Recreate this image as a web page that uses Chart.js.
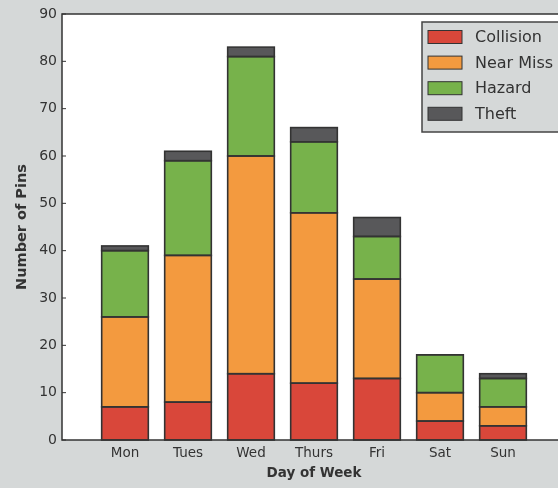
<!DOCTYPE html>
<html>
<head>
<meta charset="utf-8">
<script src="https://cdn.jsdelivr.net/npm/chart.js@4/dist/chart.umd.min.js"></script>
<style>
  html, body { margin: 0; padding: 0; overflow: hidden; background: #d5d8d8; }
  #wrap { width: 568px; height: 488px; }
</style>
</head>
<body>
<div id="wrap"><canvas id="chart" width="568" height="488"></canvas></div>
<script>
const days = ["Mon", "Tues", "Wed", "Thurs", "Fri", "Sat", "Sun"];
const collision = [7, 8, 14, 12, 13, 4, 3];
const nearMiss = [19, 31, 46, 36, 21, 6, 4];
const hazard = [14, 20, 21, 15, 9, 8, 6];
const theft = [1, 2, 2, 3, 4, 0, 1];
const yTicks = [0, 10, 20, 30, 40, 50, 60, 70, 80, 90];

const font = "'DejaVu Sans', sans-serif";
const edge = "#333333";

// one empty slot on each side so the x range runs from -1 to 7
const pad = (arr) => [null, ...arr, null];

// white plot area, bar edges, frame, inward ticks and the legend box
const framePlugin = {
  id: "frame",
  beforeDraw(chart) {
    const { ctx, chartArea: a } = chart;
    ctx.save();
    ctx.fillStyle = "#ffffff";
    ctx.fillRect(a.left, a.top, a.right - a.left, a.bottom - a.top);
    ctx.restore();
  },
  afterDatasetsDraw(chart) {
    const ctx = chart.ctx;
    ctx.save();
    ctx.strokeStyle = edge;
    ctx.lineWidth = 1.6;
    chart.data.datasets.forEach((ds, i) => {
      chart.getDatasetMeta(i).data.forEach((bar, j) => {
        if (ds.data[j] == null) return;
        const p = bar.getProps(["x", "y", "base", "width"], true);
        ctx.strokeRect(p.x - p.width / 2, p.y, p.width, p.base - p.y);
      });
    });
    ctx.restore();
  },
  afterDraw(chart) {
    const { ctx, chartArea: a, scales } = chart;
    ctx.save();
    ctx.strokeStyle = edge;
    ctx.lineWidth = 1.5;
    ctx.strokeRect(a.left, a.top, a.right - a.left, a.bottom - a.top);

    ctx.lineWidth = 1;
    yTicks.forEach((v) => {
      const y = scales.y.getPixelForValue(v);
      ctx.beginPath();
      ctx.moveTo(a.left, y);
      ctx.lineTo(a.left + 4, y);
      ctx.moveTo(a.right, y);
      ctx.lineTo(a.right - 4, y);
      ctx.stroke();
    });

    // legend
    const bx = 422, by = 22, bw = 150, bh = 110;
    ctx.fillStyle = "#d5d8d8";
    ctx.fillRect(bx, by, bw, bh);
    ctx.strokeStyle = "#444444";
    ctx.lineWidth = 1.5;
    ctx.strokeRect(bx, by, bw, bh);
    ctx.font = "16px " + font;
    ctx.textBaseline = "middle";
    chart.data.datasets.forEach((ds, i) => {
      const cy = 37 + i * 25.6;
      ctx.fillStyle = ds.backgroundColor;
      ctx.fillRect(428, cy - 6.5, 34, 13);
      ctx.strokeStyle = edge;
      ctx.lineWidth = 1;
      ctx.strokeRect(428, cy - 6.5, 34, 13);
      ctx.fillStyle = "#333333";
      ctx.fillText(ds.label, 475, cy + 1);
    });
    ctx.restore();
  },
};

const barStyle = {
  borderWidth: 0,
  barPercentage: 0.74,
  categoryPercentage: 1,
};

new Chart(document.getElementById("chart"), {
  type: "bar",
  data: {
    labels: pad(days),
    datasets: [
      { label: "Collision", data: pad(collision), backgroundColor: "#d9473a", ...barStyle },
      { label: "Near Miss", data: pad(nearMiss), backgroundColor: "#f39a3f", ...barStyle },
      { label: "Hazard", data: pad(hazard), backgroundColor: "#77b24b", ...barStyle },
      { label: "Theft", data: pad(theft), backgroundColor: "#58585a", ...barStyle },
    ],
  },
  options: {
    responsive: false,
    animation: false,
    layout: { padding: { top: 14, right: 2, left: 0, bottom: 0 } },
    plugins: {
      legend: { display: false },
      tooltip: { enabled: false },
    },
    scales: {
      x: {
        stacked: true,
        offset: false,
        grid: { display: false, drawTicks: false },
        border: { display: false },
        ticks: {
          autoSkip: false,
          maxRotation: 0,
          padding: 5,
          color: "#333333",
          font: { family: font, size: 13.5 },
        },
        title: {
          display: true,
          text: "Day of Week",
          color: "#333333",
          padding: { top: 0, bottom: 6 },
          font: { family: font, size: 13.5, weight: "bold" },
        },
        afterFit(scale) {
          scale.height = 48;
        },
      },
      y: {
        stacked: true,
        min: 0,
        max: 90,
        grid: { display: false, drawTicks: false },
        border: { display: false },
        afterBuildTicks(scale) {
          scale.ticks = yTicks.map((v) => ({ value: v }));
        },
        ticks: {
          padding: 5,
          color: "#333333",
          font: { family: font, size: 14 },
        },
        title: {
          display: true,
          text: "Number of Pins",
          color: "#333333",
          padding: { top: 14, bottom: 0 },
          font: { family: font, size: 14.5, weight: "bold" },
        },
        afterFit(scale) {
          scale.width = 62;
        },
      },
    },
  },
  plugins: [framePlugin],
});
</script>
</body>
</html>
